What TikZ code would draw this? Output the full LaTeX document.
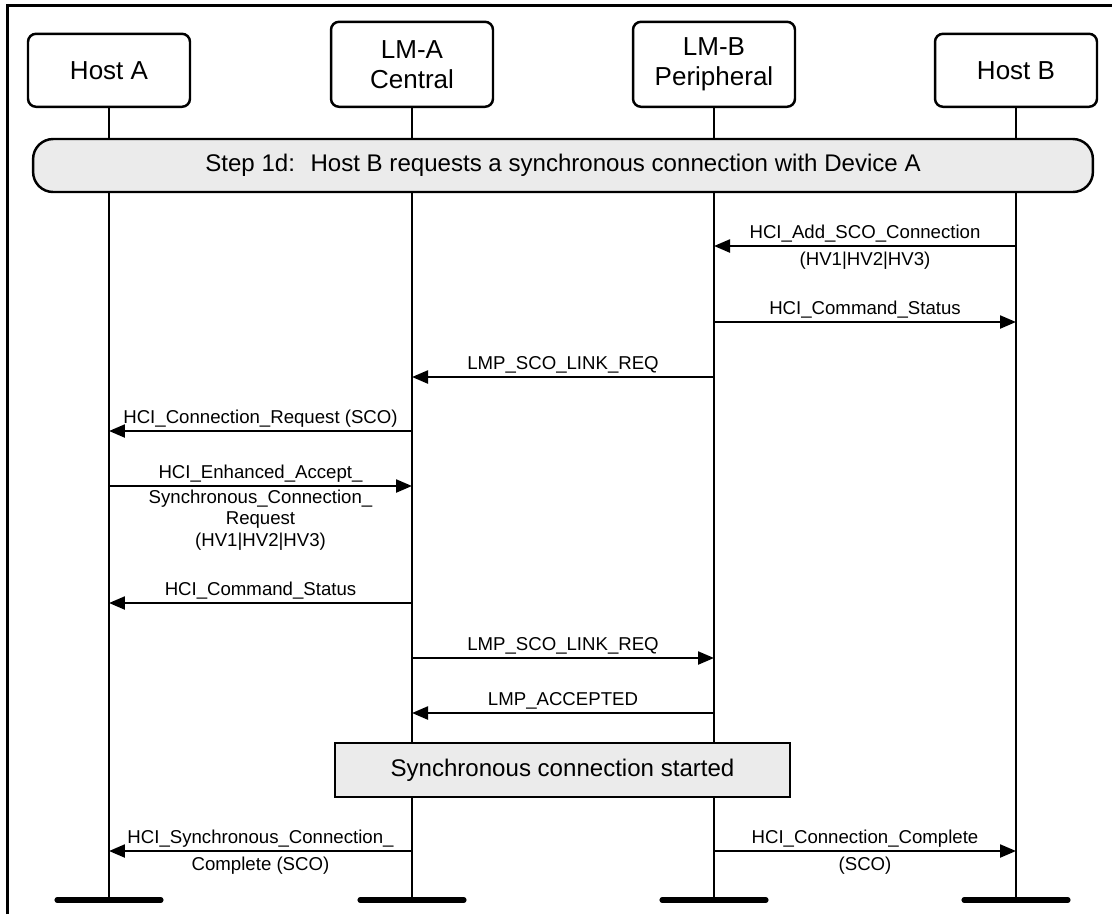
\documentclass[tikz,border=0pt]{standalone}
\usepackage{fontspec}
\setmainfont{Liberation Sans}
\usetikzlibrary{arrows.meta,positioning}
\definecolor{barGrey}{HTML}{EBEBEB}

\tikzset{
  actor/.style={draw,line width=1.4pt,rounded corners=0.16cm,minimum width=3.24cm,
    align=center,anchor=south,font=\fontsize{14.8}{17}\selectfont},
  lifeline/.style={line width=1.2pt},
  endbar/.style={line width=2.9pt,line cap=round},
  msg/.style={line width=1.3pt,-{Triangle[length=0.32cm,width=0.26cm]}},
  msgtext/.style={font=\fontsize{10.6}{12.2}\selectfont,align=center,inner sep=1.5pt},
  msgbelow/.style={msgtext,below,yshift=-1.5pt},
  stepbar/.style={draw,line width=1.4pt,fill=barGrey,rounded corners=0.4cm,
    minimum width=21.2cm,minimum height=1.06cm,font=\fontsize{13.7}{16}\selectfont},
  statebox/.style={draw,line width=1.4pt,fill=barGrey,minimum width=9.1cm,
    minimum height=1.08cm,font=\fontsize{13.7}{16}\selectfont}
}

\begin{document}
\begin{tikzpicture}[x=0.02cm,y=-0.02cm]
  \useasboundingbox (0,0) rectangle (1112,914);
  % frame, cut off at right and bottom
  \draw[line width=1.2pt] (7.5,914) -- (7.5,5.5) -- (1112,5.5);

  % the four parties
  \node[actor,minimum height=1.46cm] (hostA) at (109,108) {Host A};
  \node[actor,minimum height=1.7cm] (lmA) at (412,108) {LM-A\\Central};
  \node[actor,minimum height=1.7cm] (lmB) at (714,108) {LM-B\\Peripheral};
  \node[actor,minimum height=1.46cm] (hostB) at (1016,108) {Host B};

  % lifelines with end bars
  \foreach \p in {hostA,lmA,lmB,hostB} {
    \coordinate (\p-end) at (\p |- 0,900);
    \draw[lifeline] (\p.south) -- (\p-end);
    \draw[endbar] (\p-end) ++(-52,0) -- ++(104,0);
  }

  \node[stepbar] (step) at (563,165.5) {Step 1d:~ Host B requests a synchronous connection with Device A};

  % messages
  \draw[msg] (hostB |- 0,246) -- (lmB |- 0,246)
    node[msgtext,above,midway] (t1) {HCI\_Add\_SCO\_Connection}
    node[msgbelow,midway] (t1b) {(HV1|HV2|HV3)};
  \draw[msg] (lmB |- 0,322) -- (hostB |- 0,322)
    node[msgtext,above,midway] (t2) {HCI\_Command\_Status};
  \draw[msg] (lmB |- 0,377) -- (lmA |- 0,377)
    node[msgtext,above,midway] (t3) {LMP\_SCO\_LINK\_REQ};
  \draw[msg] (lmA |- 0,431) -- (hostA |- 0,431)
    node[msgtext,above,midway] (t4) {HCI\_Connection\_Request (SCO)};
  \draw[msg] (hostA |- 0,486) -- (lmA |- 0,486)
    node[msgtext,above,midway] (t5) {HCI\_Enhanced\_Accept\_}
    node[msgtext,below,midway] (t5b) {Synchronous\_Connection\_\\Request\\(HV1|HV2|HV3)};
  \draw[msg] (lmA |- 0,603) -- (hostA |- 0,603)
    node[msgtext,above,midway] (t6) {HCI\_Command\_Status};
  \draw[msg] (lmA |- 0,658) -- (lmB |- 0,658)
    node[msgtext,above,midway] (t7) {LMP\_SCO\_LINK\_REQ};
  \draw[msg] (lmB |- 0,713) -- (lmA |- 0,713)
    node[msgtext,above,midway] (t8) {LMP\_ACCEPTED};

  \node[statebox] (started) at (562.5,770) {Synchronous connection started};

  \draw[msg] (lmA |- 0,851) -- (hostA |- 0,851)
    node[msgtext,above,midway] (t9) {HCI\_Synchronous\_Connection\_}
    node[msgbelow,midway] (t9b) {Complete (SCO)};
  \draw[msg] (lmB |- 0,851) -- (hostB |- 0,851)
    node[msgtext,above,midway] (t10) {HCI\_Connection\_Complete}
    node[msgbelow,midway] (t10b) {(SCO)};
\end{tikzpicture}
\end{document}
